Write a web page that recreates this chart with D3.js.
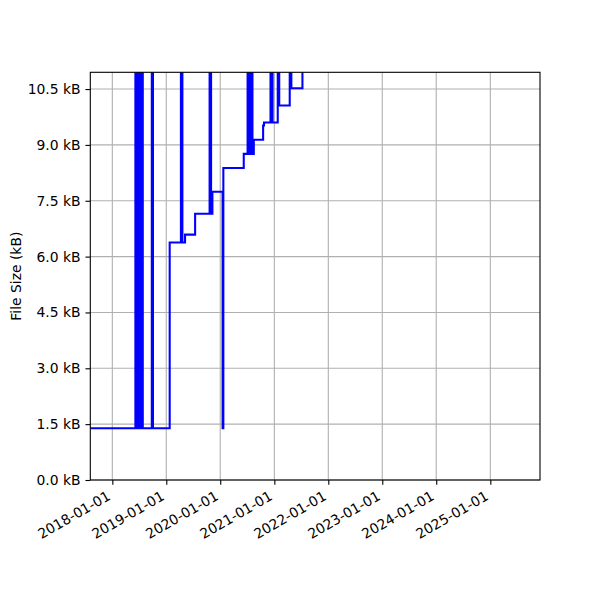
<!DOCTYPE html>
<html>
<head>
<meta charset="utf-8">
<script src="https://cdn.jsdelivr.net/npm/d3@7"></script>
<style>
html,body{margin:0;padding:0;background:#fff;}
text{font-family:"DejaVu Sans",sans-serif;}
</style>
</head>
<body>
<svg id="chart" width="600" height="600"></svg>
<script>
// Dates of each file-size change (step chart, value holds until next date)
const dates = [
  "2017-08-05","2018-06-06","2018-06-12","2018-06-16","2018-06-22","2018-06-26",
  "2018-07-01","2018-07-07","2018-07-14","2018-07-18","2018-07-26","2018-09-25",
  "2018-10-03","2019-01-24","2019-04-10","2019-04-20","2019-05-08","2019-07-15",
  "2019-10-21","2019-10-31","2019-11-09","2020-01-17","2020-01-22","2020-06-08",
  "2020-07-04","2020-07-14","2020-07-25","2020-08-06","2020-08-15","2020-10-17",
  "2020-10-23","2020-12-06","2020-12-20","2021-01-24","2021-02-03","2021-04-15",
  "2021-04-26","2021-07-10"
];
// File size in kB (spikes go above the visible range)
const sizes = [
  1.39, 25, 1.39, 25, 1.39, 25,
  1.39, 25, 1.39, 25, 1.39, 25,
  1.39, 6.38, 25, 6.38, 6.59, 7.15,
  25, 7.15, 7.74, 1.39, 8.38, 8.76,
  25, 8.76, 25, 8.76, 9.14, 9.52,
  9.60, 25, 9.60, 25, 10.06, 25,
  10.52, 25
];
const xDomain = ["2017-08-05", "2025-12-03"];
const yDomain = [0, 10.95];
const yTicks = [0, 1.5, 3.0, 4.5, 6.0, 7.5, 9.0, 10.5];
const xTicks = ["2018-01-01","2019-01-01","2020-01-01","2021-01-01","2022-01-01","2023-01-01","2024-01-01","2025-01-01"];
const yLabel = "File Size (kB)";

const parse = d3.utcParse("%Y-%m-%d");
const data = dates.map((d, i) => ({date: parse(d), value: sizes[i]}));

const FS = 13.9;      // 10pt at 100 dpi
const TICK = 4.86;    // 3.5pt
const margin = {left: 90.3, right: 60, top: 72.3, bottom: 120};
const W = 600, H = 600;
const iw = W - margin.left - margin.right, ih = H - margin.top - margin.bottom;

const svg = d3.select("#chart");
const g = svg.append("g").attr("transform", `translate(${margin.left},${margin.top})`);

const x = d3.scaleUtc().domain(xDomain.map(parse)).range([0, iw]);
const y = d3.scaleLinear().domain(yDomain).range([ih, 0]);

// grid
g.append("g").selectAll("line").data(xTicks.map(parse)).join("line")
  .attr("x1", d => x(d)).attr("x2", d => x(d)).attr("y1", 0).attr("y2", ih)
  .attr("stroke", "#b0b0b0").attr("stroke-width", 1.1);
g.append("g").selectAll("line").data(yTicks).join("line")
  .attr("x1", 0).attr("x2", iw).attr("y1", d => y(d)).attr("y2", d => y(d))
  .attr("stroke", "#b0b0b0").attr("stroke-width", 1.1);

// clip
svg.append("defs").append("clipPath").attr("id", "clip")
  .append("rect").attr("x", 0).attr("y", 0).attr("width", iw).attr("height", ih);

const line = d3.line().x(d => x(d.date)).y(d => y(d.value)).curve(d3.curveStepAfter);
g.append("path").datum(data).attr("clip-path", "url(#clip)")
  .attr("d", line).attr("fill", "none").attr("stroke", "#0000ff").attr("stroke-width", 2.08)
  .attr("stroke-linejoin", "miter");

// axes
const yAxis = d3.axisLeft(y).tickValues(yTicks).tickSize(TICK).tickPadding(TICK)
  .tickFormat(d => d3.format(".1f")(d) + " kB");
const ya = g.append("g").call(yAxis);
ya.select(".domain").remove();
ya.selectAll("text").attr("font-size", FS).attr("fill", "#000");
ya.selectAll("line").attr("stroke", "#000").attr("stroke-width", 1.1);

const xAxis = d3.axisBottom(x).tickValues(xTicks.map(parse)).tickSize(TICK).tickPadding(TICK)
  .tickFormat(d3.utcFormat("%Y-%m-%d"));
const xa = g.append("g").attr("transform", `translate(0,${ih})`).call(xAxis);
xa.select(".domain").remove();
xa.selectAll("line").attr("stroke", "#000").attr("stroke-width", 1.1);
xa.selectAll("text").attr("font-size", FS).attr("fill", "#000")
  .attr("text-anchor", "end").attr("dy", null)
  .attr("transform", "translate(-1.45,18.9) rotate(-30)")
  .attr("y", 0).attr("x", 0);

// frame
g.append("rect").attr("x", 0).attr("y", 0).attr("width", iw).attr("height", ih)
  .attr("fill", "none").attr("stroke", "#000").attr("stroke-width", 1.1);

// y label
svg.append("text").attr("transform", `translate(20.5,${margin.top + ih/2}) rotate(-90)`)
  .attr("text-anchor", "middle").attr("font-size", FS).text(yLabel);
</script>
</body>
</html>
